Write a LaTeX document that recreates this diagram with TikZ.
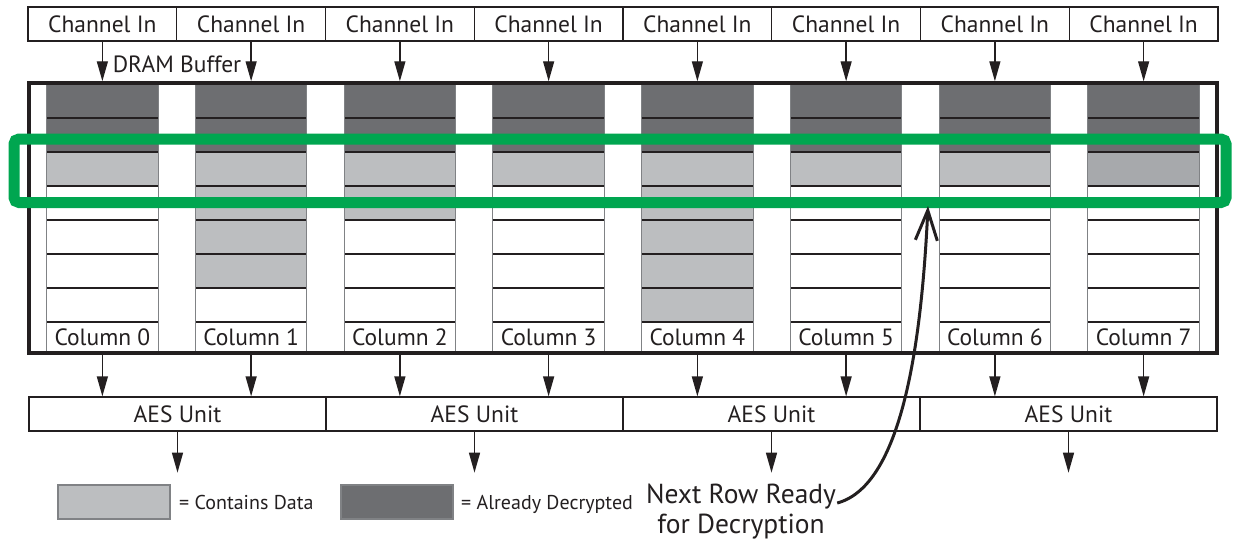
\documentclass[tikz,border=0pt]{standalone}
\usepackage{fontspec}
\setmainfont{PT Sans}
\usetikzlibrary{arrows.meta}

\definecolor{darkcell}{HTML}{6D6E71}
\definecolor{lightcell}{HTML}{BCBEC0}
\definecolor{midcell}{HTML}{A7A9AC}
\definecolor{sidegray}{HTML}{808285}
\definecolor{framegreen}{HTML}{00A650}
\definecolor{ink}{HTML}{231F20}

\tikzset{
  labelfont/.style={font=\fontsize{23.5}{27}\selectfont},
  smallfont/.style={font=\fontsize{20}{24}\selectfont},
  bigfont/.style={font=\fontsize{27.5}{32}\selectfont},
  chanbox/.style={draw=ink, line width=1.3pt, minimum width=148.75pt,
    minimum height=34pt, inner sep=0pt, labelfont, text=ink},
  aesbox/.style={draw=ink, line width=1.3pt, minimum width=297pt,
    minimum height=34pt, inner sep=0pt, labelfont, text=ink},
  cell/.style={minimum width=111.5pt, minimum height=34pt, inner sep=0pt,
    outer sep=0pt},
  collabel/.style={fill=white, minimum width=111.5pt, minimum height=31pt,
    inner sep=0pt, outer sep=0pt, labelfont, text=ink},
  rowline/.style={draw=ink, line width=1.1pt},
  sideline/.style={draw=sidegray, line width=1.1pt},
  flow/.style={draw=ink, line width=1.4pt, -{Triangle[length=20pt,width=11pt]}},
  legbox/.style={draw=sidegray, line width=1.1pt, minimum width=112pt,
    minimum height=34pt, inner sep=0pt},
}

\begin{document}
\begin{tikzpicture}[x=1pt,y=-1pt]
\useasboundingbox (0,0) rectangle (1233,542);

% input channels
\foreach \i in {0,...,7}
  \node[chanbox] (ch\i) at ({102.375+148.75*\i},24) {Channel In};

% buffer columns: two decrypted rows, then \n rows holding data
\foreach \i/\n/\c in {0/1/lightcell,1/4/lightcell,2/2/lightcell,3/1/lightcell,
                       4/5/lightcell,5/1/lightcell,6/1/lightcell,7/1/midcell} {
  \pgfmathsetmacro\cx{102.375+148.75*\i}
  \foreach \r in {1,...,7} {
    \pgfmathsetmacro\cy{67+34*\r}
    \ifnum\r<3 \def\fc{darkcell}\else
      \ifnum\r<\numexpr3+\n\relax \def\fc{\c}\else \def\fc{white}\fi\fi
    \node[cell, fill=\fc] (cell\i-\r) at (\cx,\cy) {};
  }
  \node[collabel] (lab\i) at (\cx,337.5) {Column \i};
  \foreach \r in {1,...,7}
    \draw[rowline] (cell\i-\r.south west) -- (cell\i-\r.south east);
  \draw[sideline] (cell\i-1.north west) -- (lab\i.south west);
  \draw[sideline] (cell\i-1.north east) -- (lab\i.south east);
}

% DRAM buffer frame
\node[draw=ink, line width=3.5pt, minimum width=1188pt, minimum height=270pt,
      inner sep=0pt] (dram) at (623,218) {};
\node[labelfont, text=ink, inner sep=0pt] (dramlabel) at (177,64) {DRAM Buffer};

% channels feed the columns
\foreach \i in {0,...,7}
  \draw[flow] (ch\i.south) -- (ch\i.south |- dram.north);

% AES units
\foreach \j in {0,...,3} {
  \node[aesbox] (aes\j) at ({177.5+297*\j},414) {AES Unit};
  \coordinate (out\j) at ([yshift=-41pt]aes\j.south);
  \draw[flow] (aes\j.south) -- (out\j);
}
\foreach \i/\j in {0/0,1/0,2/1,3/1,4/2,5/2,6/3,7/3}
  \draw[flow] (dram.south -| lab\i.south) -- (aes\j.north -| lab\i.south);

% row that is ready for decryption
\draw[framegreen, line width=11pt, rounded corners=5pt]
  (14,139) rectangle (1226,202.5);

% legend
\node[legbox, fill=lightcell] (legdata) at (114,502) {};
\node[smallfont, text=ink, anchor=base west, inner sep=0pt] (legdatatext)
  at (179,509) {= Contains Data};
\node[legbox, fill=darkcell] (legdec) at (397,502) {};
\node[smallfont, text=ink, anchor=base west, inner sep=0pt] (legdectext)
  at (461,509) {= Already Decrypted};

% annotation
\node[bigfont, text=ink, anchor=base, inner sep=0pt] (note1) at (741,503) {Next Row Ready};
\node[bigfont, text=ink, anchor=base, inner sep=0pt] (note2) at (741,533) {for Decryption};
\coordinate (target) at (928,206);
\draw[ink, line width=3pt, -{Straight Barb[length=30pt,width=22pt]}]
  ([xshift=1pt]note1.base east) .. controls (905,485) and (922,330) .. (target);
\end{tikzpicture}
\end{document}
